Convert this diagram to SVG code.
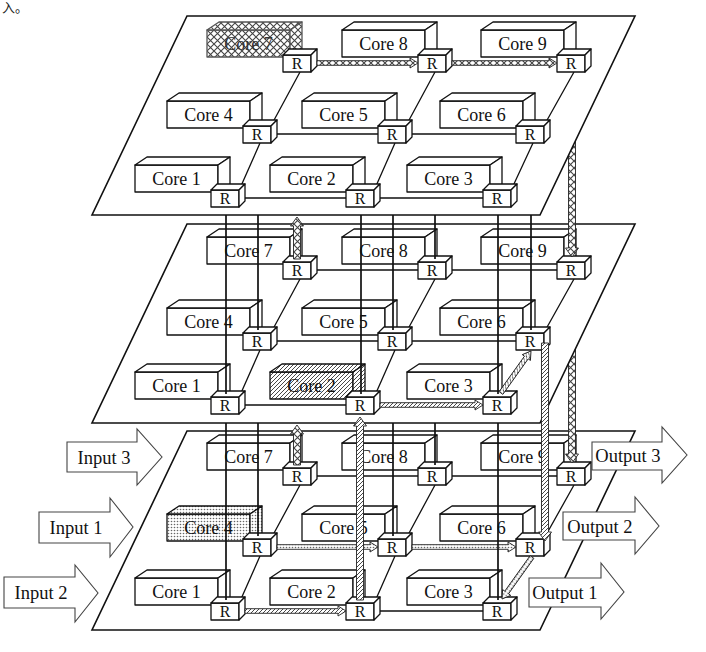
<svg xmlns="http://www.w3.org/2000/svg" xmlns:xlink="http://www.w3.org/1999/xlink" width="706" height="652" viewBox="0 0 706 652">
<style>
.pl{fill:#fff;stroke:#111;stroke-width:1.6;stroke-linejoin:miter}
.core{fill:#fff;stroke:#111;stroke-width:1.3;stroke-linejoin:round}
.rt{fill:#fff;stroke:#111;stroke-width:1.3;stroke-linejoin:round}
.ln{fill:none;stroke:#111;stroke-width:1.3}
.vl{fill:none;stroke:#111;stroke-width:1.7}
.ha{stroke:#222;stroke-width:0.9;stroke-linejoin:miter}
.xh{fill:url(#xh)}
.dh{fill:url(#dh)}
.dt{fill:url(#dots)}
.ct{font-family:"Liberation Serif","Times New Roman",serif;font-size:18px;text-anchor:middle;fill:#111}
.rx{font-family:"Liberation Serif","Times New Roman",serif;font-size:16px;text-anchor:middle;fill:#111}
.io{fill:#fff;stroke:#444;stroke-width:1.1}
.it{font-family:"Liberation Serif","Times New Roman",serif;font-size:18.5px;text-anchor:middle;fill:#111}
</style>
<defs>
<pattern id="xh" width="7" height="7" patternUnits="userSpaceOnUse"><rect width="7" height="7" fill="#fff"/><path d="M0,0L7,7M7,0L0,7" stroke="#444" stroke-width="1.1"/></pattern>
<pattern id="dh" width="4" height="4" patternUnits="userSpaceOnUse"><rect width="4" height="4" fill="#fff"/><path d="M0,4L4,0M-1,1L1,-1M3,5L5,3" stroke="#333" stroke-width="0.9"/></pattern>
<pattern id="dots" width="3" height="3" patternUnits="userSpaceOnUse"><rect width="3" height="3" fill="#fff"/><circle cx="1.5" cy="1.5" r="0.8" fill="#666"/></pattern>
<g id="coreShape"><rect x="0" y="0" width="83" height="27"/><polygon points="0,0 12,-8 95,-8 83,0"/><polygon points="83,0 95,-8 95,19 83,27"/></g>
<g id="rShape"><rect x="0" y="0" width="28" height="17"/><polygon points="0,0 6,-6 34,-6 28,0"/><polygon points="28,0 34,-6 34,11 28,17"/></g>
</defs>
<rect width="706" height="652" fill="#fff"/>
<text x="2" y="12" style="font-family:'Liberation Serif','Noto Sans CJK SC',serif;font-size:13px;fill:#222">入。</text>

<!-- ===== BOTTOM LAYER ===== -->
<g id="layer-bottom">
<polygon class="pl" points="187,431 635,431 540,630 92,630"/>
<path class="ln" d="M374,611H483 M311,476H418 M446,476H557 M241,599L260,556 M273,535L300,485 M376,599L395,556 M408,535L435,485 M546,535L574,485"/>
<g id="bottom-core1"><use href="#coreShape" x="135" y="578" class="core"/><text class="ct" x="176.5" y="598">Core 1</text></g>
<g id="bottom-core2"><use href="#coreShape" x="270" y="578" class="core"/><text class="ct" x="311.5" y="598">Core 2</text></g>
<g id="bottom-core3"><use href="#coreShape" x="407" y="578" class="core"/><text class="ct" x="448.5" y="598">Core 3</text></g>
<g id="bottom-core4"><use href="#coreShape" x="167" y="514" class="core" style="fill:url(#dots)"/><text class="ct" x="208.5" y="534">Core 4</text></g>
<g id="bottom-core5"><use href="#coreShape" x="302" y="514" class="core"/><text class="ct" x="343.5" y="534">Core 5</text></g>
<g id="bottom-core6"><use href="#coreShape" x="440" y="514" class="core"/><text class="ct" x="481.5" y="534">Core 6</text></g>
<g id="bottom-core7"><use href="#coreShape" x="207" y="443" class="core"/><text class="ct" x="248.5" y="463">Core 7</text></g>
<g id="bottom-core8"><use href="#coreShape" x="342" y="443" class="core"/><text class="ct" x="383.5" y="463">Core 8</text></g>
<g id="bottom-core9"><use href="#coreShape" x="481" y="443" class="core"/><text class="ct" x="522.5" y="463">Core 9</text></g>
<g id="bottom-r1"><use href="#rShape" x="211" y="603" class="rt"/><text class="rx" x="225" y="617">R</text></g>
<g id="bottom-r2"><use href="#rShape" x="346" y="603" class="rt"/><text class="rx" x="360" y="617">R</text></g>
<g id="bottom-r3"><use href="#rShape" x="483" y="603" class="rt"/><text class="rx" x="497" y="617">R</text></g>
<g id="bottom-r4"><use href="#rShape" x="243" y="539" class="rt"/><text class="rx" x="257" y="553">R</text></g>
<g id="bottom-r5"><use href="#rShape" x="378" y="539" class="rt"/><text class="rx" x="392" y="553">R</text></g>
<g id="bottom-r6"><use href="#rShape" x="516" y="539" class="rt"/><text class="rx" x="530" y="553">R</text></g>
<g id="bottom-r7"><use href="#rShape" x="283" y="468" class="rt"/><text class="rx" x="297" y="482">R</text></g>
<g id="bottom-r8"><use href="#rShape" x="418" y="468" class="rt"/><text class="rx" x="432" y="482">R</text></g>
<g id="bottom-r9"><use href="#rShape" x="557" y="468" class="rt"/><text class="rx" x="571" y="482">R</text></g>
</g>
<g id="connectors-bottom">
<polygon class="ha dh" points="245,608.7 338,608.7 338,606 346,611 338,616 338,613.3 245,613.3"/>
<polygon class="ha dt" points="277,544.7 370,544.7 370,542 378,547 370,552 370,549.3 277,549.3"/>
<polygon class="ha dt" points="412,544.7 508,544.7 508,542 516,547 508,552 508,549.3 412,549.3"/>
<polygon class="ha dt" transform="translate(532,557) rotate(125.54)" points="0,-2.3 43.6,-2.3 43.6,-5 51.6,0 43.6,5 43.6,2.3 0,2.3"/>
</g>

<!-- middle to bottom -->
<g id="connectors-middle-bottom">
<path class="vl" d="M226,414V600 M258,350V536 M393,350V536 M435,279V465 M498,414V600"/>
<polygon class="ha xh" points="568.5,279 575.5,279 575.5,454 578.5,454 572,463 565.5,454 568.5,454"/>
<polygon class="ha xh" points="293.5,465 300.5,465 300.5,434 303.5,434 297,425 290.5,434 293.5,434"/>
</g>

<!-- ===== MIDDLE LAYER ===== -->
<g id="layer-middle">
<polygon class="pl" points="187,224 635,224 540,423 92,423"/>
<path class="ln" d="M239,405H346 M271,341H378 M406,341H516 M311,270H418 M446,270H557 M241,393L260,350 M273,329L300,279 M376,393L395,350 M408,329L435,279 M546,329L574,279"/>
<g id="middle-core1"><use href="#coreShape" x="135" y="372" class="core"/><text class="ct" x="176.5" y="392">Core 1</text></g>
<g id="middle-core2"><use href="#coreShape" x="270" y="372" class="core" style="fill:url(#dh)"/><text class="ct" x="311.5" y="392">Core 2</text></g>
<g id="middle-core3"><use href="#coreShape" x="407" y="372" class="core"/><text class="ct" x="448.5" y="392">Core 3</text></g>
<g id="middle-core4"><use href="#coreShape" x="167" y="308" class="core"/><text class="ct" x="208.5" y="328">Core 4</text></g>
<g id="middle-core5"><use href="#coreShape" x="302" y="308" class="core"/><text class="ct" x="343.5" y="328">Core 5</text></g>
<g id="middle-core6"><use href="#coreShape" x="440" y="308" class="core"/><text class="ct" x="481.5" y="328">Core 6</text></g>
<g id="middle-core7"><use href="#coreShape" x="207" y="237" class="core"/><text class="ct" x="248.5" y="257">Core 7</text></g>
<g id="middle-core8"><use href="#coreShape" x="342" y="237" class="core"/><text class="ct" x="383.5" y="257">Core 8</text></g>
<g id="middle-core9"><use href="#coreShape" x="481" y="237" class="core"/><text class="ct" x="522.5" y="257">Core 9</text></g>
<g id="middle-r1"><use href="#rShape" x="211" y="397" class="rt"/><text class="rx" x="225" y="411">R</text></g>
<g id="middle-r2"><use href="#rShape" x="346" y="397" class="rt"/><text class="rx" x="360" y="411">R</text></g>
<g id="middle-r3"><use href="#rShape" x="483" y="397" class="rt"/><text class="rx" x="497" y="411">R</text></g>
<g id="middle-r4"><use href="#rShape" x="243" y="333" class="rt"/><text class="rx" x="257" y="347">R</text></g>
<g id="middle-r5"><use href="#rShape" x="378" y="333" class="rt"/><text class="rx" x="392" y="347">R</text></g>
<g id="middle-r6"><use href="#rShape" x="516" y="333" class="rt"/><text class="rx" x="530" y="347">R</text></g>
<g id="middle-r7"><use href="#rShape" x="283" y="262" class="rt"/><text class="rx" x="297" y="276">R</text></g>
<g id="middle-r8"><use href="#rShape" x="418" y="262" class="rt"/><text class="rx" x="432" y="276">R</text></g>
<g id="middle-r9"><use href="#rShape" x="557" y="262" class="rt"/><text class="rx" x="571" y="276">R</text></g>
</g>
<g id="connectors-middle">
<polygon class="ha dh" points="380,402.7 475,402.7 475,400 483,405 475,410 475,407.3 380,407.3"/>
<polygon class="ha dh" transform="translate(501,393) rotate(-54.46)" points="0,-2.3 43.6,-2.3 43.6,-5 51.6,0 43.6,5 43.6,2.3 0,2.3"/>
<polygon class="ha dh" points="541.5,343 548.5,343 548.5,532 551.5,532 545,541 538.5,532 541.5,532"/>
<polygon class="ha dh" points="356.5,600 363.5,600 363.5,426 366.5,426 360,417 353.5,426 356.5,426"/>
</g>

<!-- top to middle -->
<g id="connectors-top-middle">
<path class="vl" d="M226,207V394 M258,143V330 M361,207V394 M393,143V330 M435,72V259 M498,207V394 M531,143V330"/>
<polygon class="ha xh" points="568.5,72 575.5,72 575.5,248 578.5,248 572,257 565.5,248 568.5,248"/>
<polygon class="ha xh" points="293.5,259 300.5,259 300.5,226 303.5,226 297,217 290.5,226 293.5,226"/>
</g>

<!-- ===== TOP LAYER ===== -->
<g id="layer-top">
<polygon class="pl" points="187,16 635,16 540,215 92,215"/>
<path class="ln" d="M239,198H346 M374,198H483 M271,134H378 M406,134H516 M241,186L260,143 M273,122L300,72 M376,186L395,143 M408,122L435,72 M513,186L533,143 M546,122L574,72"/>
<g id="top-core1"><use href="#coreShape" x="135" y="165" class="core"/><text class="ct" x="176.5" y="185">Core 1</text></g>
<g id="top-core2"><use href="#coreShape" x="270" y="165" class="core"/><text class="ct" x="311.5" y="185">Core 2</text></g>
<g id="top-core3"><use href="#coreShape" x="407" y="165" class="core"/><text class="ct" x="448.5" y="185">Core 3</text></g>
<g id="top-core4"><use href="#coreShape" x="167" y="101" class="core"/><text class="ct" x="208.5" y="121">Core 4</text></g>
<g id="top-core5"><use href="#coreShape" x="302" y="101" class="core"/><text class="ct" x="343.5" y="121">Core 5</text></g>
<g id="top-core6"><use href="#coreShape" x="440" y="101" class="core"/><text class="ct" x="481.5" y="121">Core 6</text></g>
<g id="top-core7"><use href="#coreShape" x="207" y="30" class="core" style="fill:url(#xh);stroke:#555"/><text class="ct" x="248.5" y="50" style="fill:#333">Core 7</text></g>
<g id="top-core8"><use href="#coreShape" x="342" y="30" class="core"/><text class="ct" x="383.5" y="50">Core 8</text></g>
<g id="top-core9"><use href="#coreShape" x="481" y="30" class="core"/><text class="ct" x="522.5" y="50">Core 9</text></g>
<g id="top-r1"><use href="#rShape" x="211" y="190" class="rt"/><text class="rx" x="225" y="204">R</text></g>
<g id="top-r2"><use href="#rShape" x="346" y="190" class="rt"/><text class="rx" x="360" y="204">R</text></g>
<g id="top-r3"><use href="#rShape" x="483" y="190" class="rt"/><text class="rx" x="497" y="204">R</text></g>
<g id="top-r4"><use href="#rShape" x="243" y="126" class="rt"/><text class="rx" x="257" y="140">R</text></g>
<g id="top-r5"><use href="#rShape" x="378" y="126" class="rt"/><text class="rx" x="392" y="140">R</text></g>
<g id="top-r6"><use href="#rShape" x="516" y="126" class="rt"/><text class="rx" x="530" y="140">R</text></g>
<g id="top-r7"><use href="#rShape" x="283" y="55" class="rt"/><text class="rx" x="297" y="69">R</text></g>
<g id="top-r8"><use href="#rShape" x="418" y="55" class="rt"/><text class="rx" x="432" y="69">R</text></g>
<g id="top-r9"><use href="#rShape" x="557" y="55" class="rt"/><text class="rx" x="571" y="69">R</text></g>
</g>
<g id="connectors-top">
<polygon class="ha xh" points="317,60.7 410,60.7 410,58 418,63 410,68 410,65.3 317,65.3"/>
<polygon class="ha xh" points="452,60.7 549,60.7 549,58 557,63 549,68 549,65.3 452,65.3"/>
</g>

<!-- ===== INPUTS / OUTPUTS ===== -->
<g id="input3"><polygon class="io" points="67,442 137,442 137,429 162,457 137,485 137,472 67,472"/><text class="it" x="104" y="463.5">Input 3</text></g>
<g id="input1"><polygon class="io" points="39,512 110,512 110,498 133,527 110,557 110,543 39,543"/><text class="it" x="76" y="533.5">Input 1</text></g>
<g id="input2"><polygon class="io" points="4,577 75,577 75,565 98,593 75,622 75,608 4,608"/><text class="it" x="41" y="598.5">Input 2</text></g>
<g id="output3"><polygon class="io" points="592,442 662,442 662,427 687,455 662,483 662,470 592,470"/><text class="it" x="628" y="461.5">Output 3</text></g>
<g id="output2"><polygon class="io" points="563,512 635,512 635,497 659,526 635,554 635,540 563,540"/><text class="it" x="600" y="532.5">Output 2</text></g>
<g id="output1"><polygon class="io" points="529,578 601,578 601,563 624,592 601,619 601,607 529,607"/><text class="it" x="565" y="598.5">Output 1</text></g>
</svg>
